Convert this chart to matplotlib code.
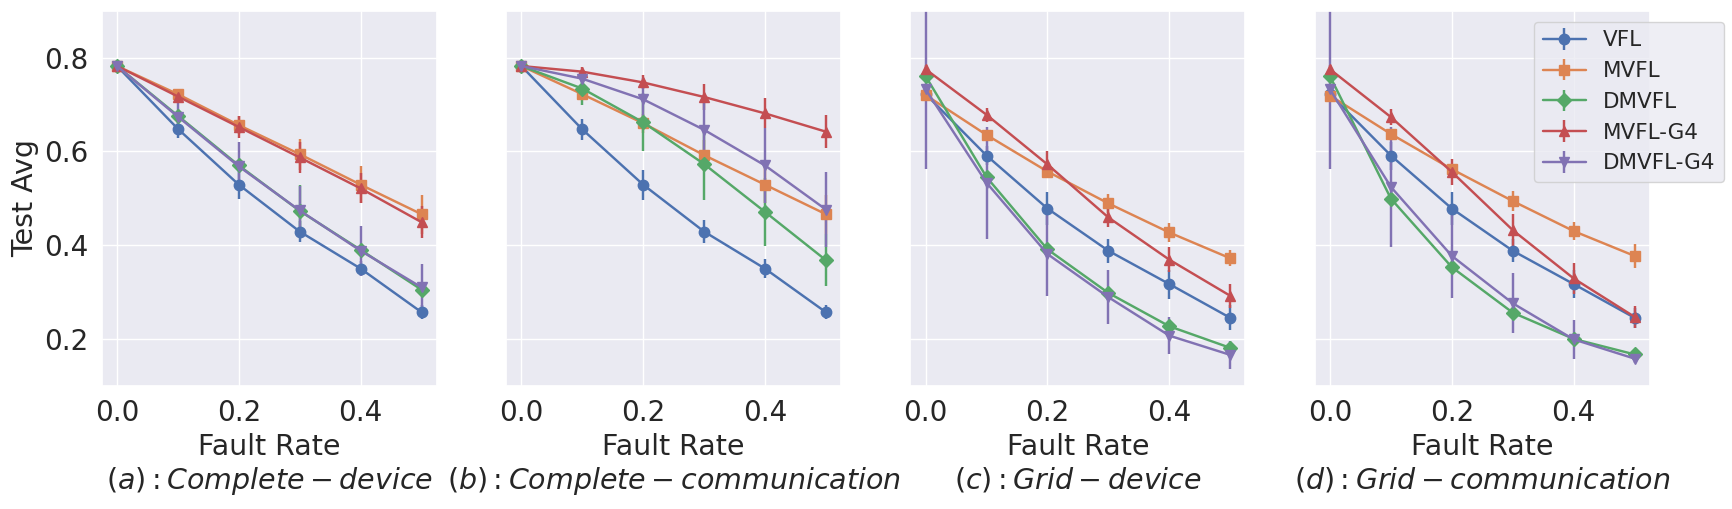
import numpy as np
import matplotlib
matplotlib.use('Agg')
import matplotlib.pyplot as plt
import seaborn as sns

fault_rate = [0.0, 0.1, 0.2, 0.3, 0.4, 0.5]
methods = ['VFL', 'MVFL', 'DMVFL', 'MVFL-G4', 'DMVFL-G4']
markers = ['o', 's', 'D', '^', 'v']
titles = ['$(a): Complete-device$', '$(b): Complete-communication$',
          '$(c): Grid-device$', '$(d): Grid-communication$']

# (a) complete - device
a_mean = [
    [0.782, 0.648, 0.529, 0.429, 0.350, 0.257],
    [0.782, 0.722, 0.656, 0.594, 0.529, 0.466],
    [0.782, 0.676, 0.570, 0.473, 0.390, 0.305],
    [0.782, 0.717, 0.652, 0.587, 0.521, 0.449],
    [0.782, 0.674, 0.568, 0.474, 0.388, 0.310],
]
a_err = [
    [0.005, 0.020, 0.030, 0.022, 0.016, 0.015],
    [0.005, 0.012, 0.020, 0.033, 0.039, 0.042],
    [0.005, 0.010, 0.010, 0.055, 0.010, 0.010],
    [0.005, 0.010, 0.024, 0.034, 0.032, 0.034],
    [0.005, 0.035, 0.053, 0.052, 0.053, 0.050],
]

# (b) complete - communication
b_mean = [
    [0.782, 0.647, 0.529, 0.429, 0.350, 0.257],
    [0.782, 0.722, 0.660, 0.592, 0.529, 0.466],
    [0.782, 0.734, 0.662, 0.573, 0.471, 0.368],
    [0.782, 0.770, 0.747, 0.716, 0.681, 0.642],
    [0.782, 0.755, 0.711, 0.646, 0.570, 0.476],
]
b_err = [
    [0.005, 0.023, 0.032, 0.025, 0.020, 0.015],
    [0.005, 0.012, 0.020, 0.033, 0.039, 0.042],
    [0.005, 0.035, 0.062, 0.076, 0.073, 0.056],
    [0.005, 0.010, 0.015, 0.027, 0.032, 0.035],
    [0.005, 0.010, 0.045, 0.070, 0.080, 0.081],
]

# (c) grid - device
c_mean = [
    [0.722, 0.591, 0.478, 0.388, 0.317, 0.245],
    [0.720, 0.635, 0.557, 0.489, 0.427, 0.372],
    [0.760, 0.545, 0.391, 0.298, 0.227, 0.181],
    [0.775, 0.678, 0.572, 0.459, 0.369, 0.292],
    [0.732, 0.533, 0.381, 0.289, 0.207, 0.166],
]
c_err = [
    [0.010, 0.020, 0.035, 0.026, 0.031, 0.027],
    [0.010, 0.010, 0.010, 0.021, 0.021, 0.017],
    [0.010, 0.010, 0.010, 0.010, 0.012, 0.010],
    [0.010, 0.015, 0.028, 0.020, 0.027, 0.026],
    [0.170, 0.120, 0.090, 0.057, 0.040, 0.030],
]

# (d) grid - communication
d_mean = [
    [0.722, 0.591, 0.478, 0.388, 0.317, 0.245],
    [0.719, 0.637, 0.562, 0.494, 0.430, 0.377],
    [0.760, 0.499, 0.353, 0.256, 0.200, 0.167],
    [0.775, 0.673, 0.556, 0.432, 0.329, 0.247],
    [0.732, 0.524, 0.377, 0.276, 0.199, 0.158],
]
d_err = [
    [0.010, 0.030, 0.035, 0.025, 0.030, 0.022],
    [0.010, 0.010, 0.012, 0.021, 0.020, 0.025],
    [0.010, 0.010, 0.010, 0.010, 0.010, 0.010],
    [0.010, 0.017, 0.028, 0.034, 0.033, 0.024],
    [0.170, 0.127, 0.090, 0.064, 0.042, 0.010],
]

sns.set_theme(style='darkgrid')
colors = sns.color_palette('deep')

fig, axes = plt.subplots(1, 4, figsize=(17.33, 5.09), dpi=100, sharey=True)
fig.subplots_adjust(left=0.0587, right=0.952, top=0.979, bottom=0.242, wspace=0.207)

panels = [(a_mean, a_err), (b_mean, b_err), (c_mean, c_err), (d_mean, d_err)]
for ax, (means, errs), title in zip(axes, panels, titles):
    for i, name in enumerate(methods):
        ax.errorbar(fault_rate, means[i], yerr=errs[i], marker=markers[i],
                    color=colors[i], label=name, linewidth=1.75, markersize=7.5,
                    elinewidth=1.75)
    ax.set_ylim(0.1, 0.9)
    ax.set_yticks([0.2, 0.4, 0.6, 0.8])
    ax.set_xticks([0.0, 0.2, 0.4])
    ax.tick_params(labelsize=20)
    ax.set_xlabel('Fault Rate\n' + title, fontsize=20.5)

axes[0].set_ylabel('Test Avg', fontsize=20.5)
axes[3].legend(loc='upper right', bbox_to_anchor=(0.9948, 0.9574),
               bbox_transform=fig.transFigure, borderaxespad=0, fontsize=15.5)

fig.savefig('out.png')
